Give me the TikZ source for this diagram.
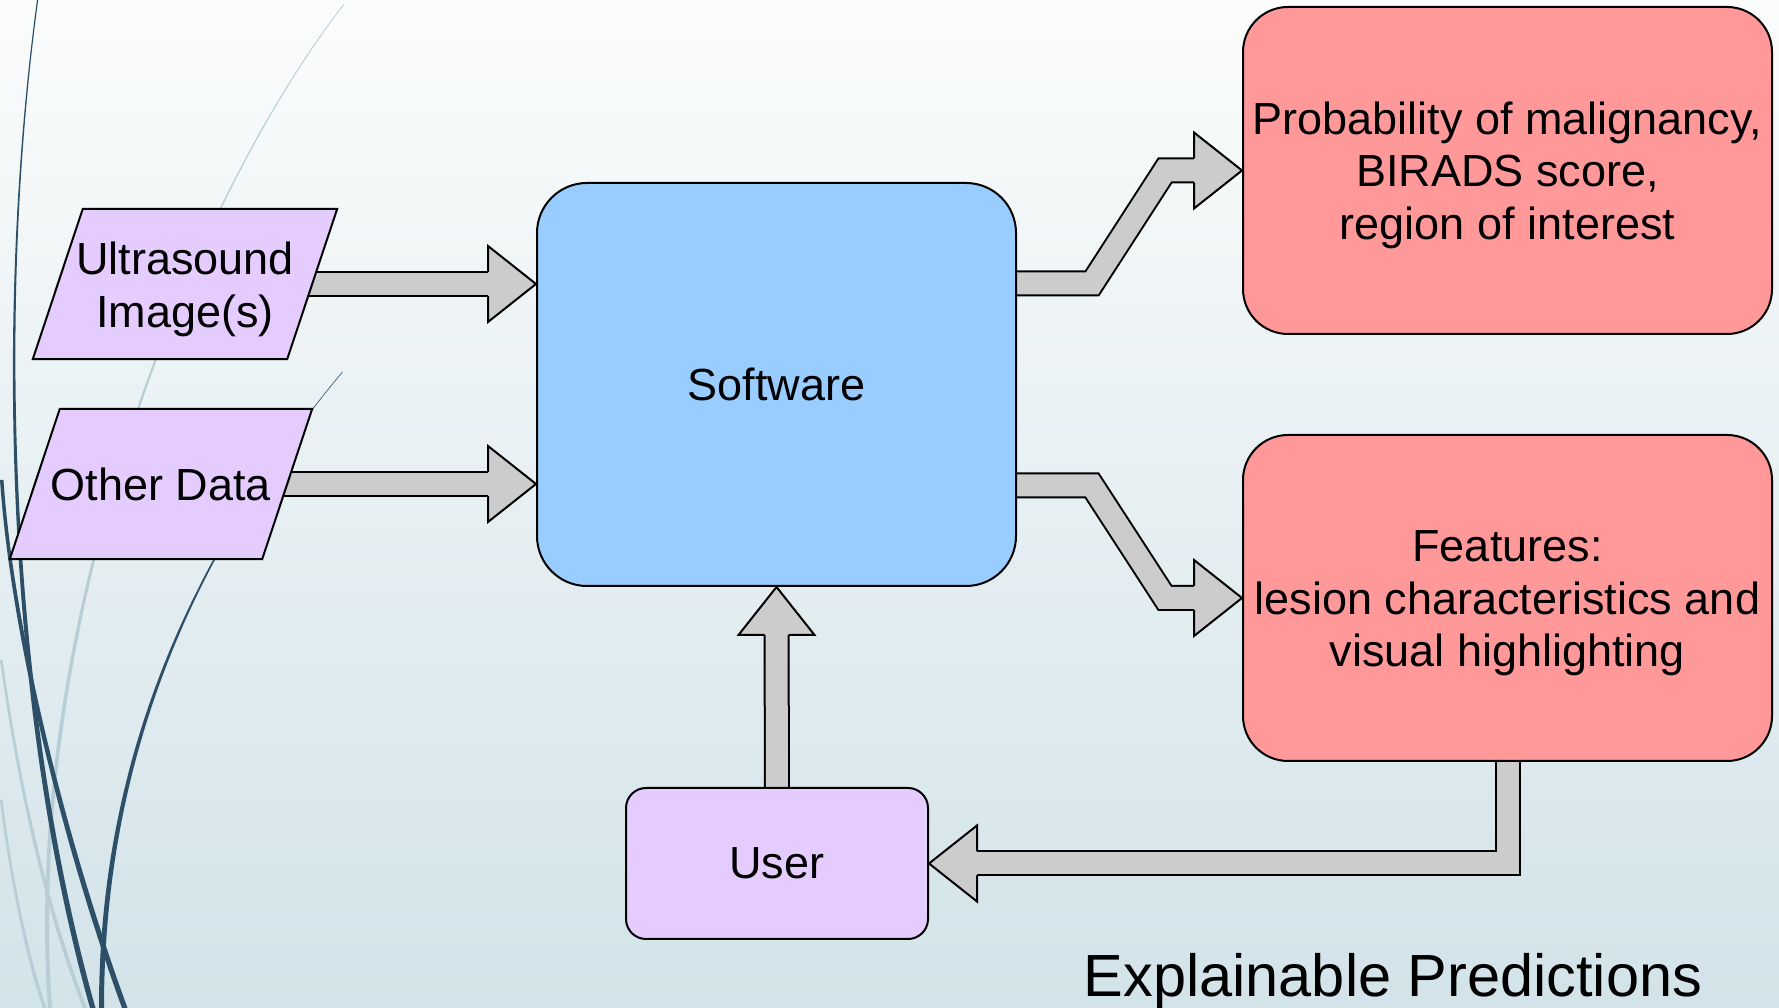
\documentclass[tikz,border=0pt]{standalone}
\usepackage{fontspec}
\setmainfont{Liberation Sans}
\usetikzlibrary{calc}
\definecolor{lav}{HTML}{E5CCFF}
\definecolor{swblue}{HTML}{99CCFF}
\definecolor{outred}{HTML}{FF9999}
\definecolor{arrgray}{HTML}{CCCCCC}
\definecolor{deco}{HTML}{2D5068}
\definecolor{decolight}{HTML}{B8CDD5}
\definecolor{bgtop}{HTML}{FBFCFC}
\definecolor{bgbot}{HTML}{D2E3E9}
\pgfdeclarelayer{bg}
\pgfdeclarelayer{arrows}
\pgfdeclarelayer{shapes}
\pgfsetlayers{bg,arrows,shapes,main}
\tikzset{
  boxtext/.style={font=\fontsize{45}{52.5}\selectfont, align=center, inner sep=0pt},
  roundbox/.style={draw=black, line width=2pt, rectangle, inner sep=0pt},
  parashape/.style={fill=lav, draw=black, line width=2pt, line join=miter},
  shaft/.style={draw=black, line width=2pt, double=arrgray, double distance=22pt, line join=miter},
  bighead/.pic={
    \fill[arrgray] (-48,38) -- (0,0) -- (-48,-38) -- cycle;
    \draw[line width=2pt, line join=miter] (-48,12) -- (-48,38) -- (0,0) -- (-48,-38) -- (-48,-12);
  },
}
% tapered decorative stroke: colour, P0, P1, P2, P3, width at P0, width at P3
\newcommand\taperline[7]{%
  \fill[#1] #2 .. controls #3 and #4 .. #5 -- ++(#7,0)
    .. controls ($#4+(#7,0)$) and ($#3+(#6,0)$) .. ($#2+(#6,0)$) -- cycle;}
\begin{document}
\begin{tikzpicture}[x=1pt,y=1pt]
\useasboundingbox (0,0) rectangle (1779,1008);
\begin{pgfonlayer}{bg}
  \shade[top color=bgtop, bottom color=bgbot] (0,0) rectangle (1779,1008);
  % light decorative curves
  \taperline{decolight}{(343,1003)}{(200,820)}{(20,400)}{(48,0)}{1}{4}
  \taperline{decolight}{(0,348)}{(15,240)}{(40,110)}{(83,0)}{2.5}{4}
  \taperline{decolight}{(0,208)}{(8,140)}{(25,50)}{(43,0)}{2.5}{3.5}
  % dark decorative curves
  \taperline{deco}{(37,1008)}{(-5,700)}{(5,300)}{(90,0)}{1.2}{5.5}
  \taperline{deco}{(0,528)}{(10,380)}{(60,170)}{(122,0)}{3.5}{5.5}
  \taperline{deco}{(342,636)}{(192,456)}{(99,250)}{(99,0)}{0.8}{5}
\end{pgfonlayer}

% nodes
\node[minimum width=254pt, minimum height=150pt, inner sep=0pt] (us) at (185,724) {};
\node[boxtext] (ustext) at (185,718.5) {Ultrasound\\Image(s)};
\node[boxtext, minimum width=252pt, minimum height=150pt] (od) at (161,524) {Other Data};
\node[roundbox, boxtext, fill=swblue, rounded corners=50pt, minimum width=479pt, minimum height=403pt] (sw) at (776.5,623.5) {Software};
\node[roundbox, fill=outred, rounded corners=45pt, minimum width=529pt, minimum height=327pt] (r1) at (1507.5,837.5) {};
\node[boxtext] (r1text) at (1507.5,833) {Probability of malignancy,\\BIRADS score,\\region of interest};
\node[roundbox, fill=outred, rounded corners=45pt, minimum width=529pt, minimum height=326pt] (r2) at (1507.5,410) {};
\node[boxtext] (r2text) at (1507.5,404.5) {Features:\\lesion characteristics and\\visual highlighting};
\node[roundbox, boxtext, fill=lav, rounded corners=20pt, minimum width=302pt, minimum height=151pt] (user) at (777,144.5) {User};
\node[anchor=base, font=\fontsize{59.5}{70}\selectfont, inner sep=0pt] (title) at (1393,11) {Explainable Predictions};

% parallelogram outlines behind their text
\begin{pgfonlayer}{shapes}
  \draw[parashape] ($(us.north west)+(25,0)$) -- ($(us.north east)+(25,0)$) -- ($(us.south east)+(-25,0)$) -- ($(us.south west)+(-25,0)$) -- cycle;
  \draw[parashape] ($(od.north west)+(25,0)$) -- ($(od.north east)+(25,0)$) -- ($(od.south east)+(-25,0)$) -- ($(od.south west)+(-25,0)$) -- cycle;
\end{pgfonlayer}

% arrow shafts
\begin{pgfonlayer}{arrows}
  \draw[shaft] (us.center) -- ($(sw.west |- us.center)+(-40,0)$);
  \draw[shaft] (od.center) -- ($(sw.west |- od.center)+(-40,0)$);
  \draw[shaft] ($(sw.east)+(-5,101)$) -- ++(80,0) -- ($(r1.west)+(-77,0)$) -- ($(r1.west)+(-40,0)$);
  \draw[shaft] ($(sw.east)+(-5,-101)$) -- ++(80,0) -- ($(r2.west)+(-77,0)$) -- ($(r2.west)+(-40,0)$);
  \draw[shaft] ($(user.north)+(0,-5)$) -- ($(sw.south)+(0,-40)$);
  \draw[shaft] ($(r2.south)+(0,5)$) -- (r2.south |- user.east) -- ($(user.east)+(40,0)$);
\end{pgfonlayer}

% arrow heads
\pic at (sw.west |- us.center) {bighead};
\pic at (sw.west |- od.center) {bighead};
\pic at (r1.west) {bighead};
\pic at (r2.west) {bighead};
\pic[rotate=90] at (sw.south) {bighead};
\pic[rotate=180] at (user.east) {bighead};
\end{tikzpicture}
\end{document}
